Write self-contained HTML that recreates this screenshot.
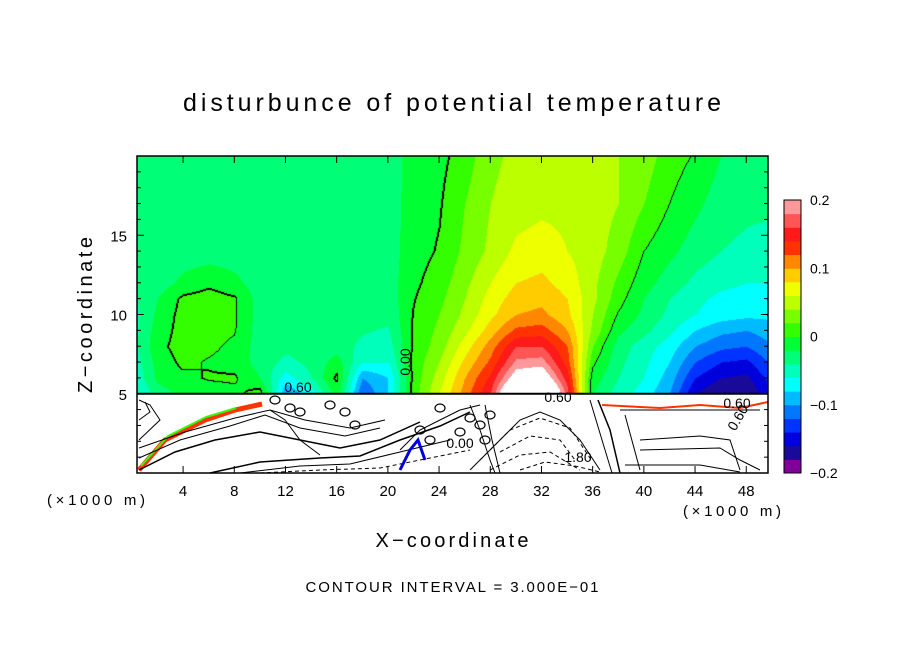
<!DOCTYPE html>
<html><head><meta charset="utf-8">
<style>
html,body{margin:0;padding:0;background:#fff;}
#wrap{position:relative;width:904px;height:654px;overflow:hidden;font-family:"Liberation Sans","DejaVu Sans",sans-serif;}
canvas{position:absolute;left:0;top:0;}
svg{position:absolute;left:0;top:0;}
</style></head>
<body>
<div id="wrap">
<canvas id="cv" width="904" height="654"></canvas>
<svg id="sv" width="904" height="654"></svg>
</div>
<script>
// ---- data ----
const xCoords = [0,2,4,6,8,10,12,14,16,18,20,22,24,26,28,30,32,34,36,38,40,42,44,46,48,50];
const zCoords = [20,17,14,12,11,10,9,8,7,6,5];
const fieldRows = [
[-.035,-.03,-.03,-.03,-.03,-.03,-.03,-.03,-.03,-.03,-.03,-.012,-.006,.01,.035,.045,.047,.047,.047,.04,.03,.01,-.002,-.02,-.03,-.03],
[-.035,-.03,-.03,-.03,-.03,-.03,-.03,-.03,-.03,-.03,-.03,-.01,-.002,.02,.04,.05,.055,.055,.05,.04,.02,.0,-.015,-.03,-.035,-.035],
[-.035,-.03,-.03,-.03,-.03,-.03,-.03,-.03,-.03,-.03,-.03,-.008,.002,.025,.045,.065,.07,.06,.05,.03,.0,-.015,-.03,-.04,-.045,-.05],
[-.04,-.03,-.015,-.005,-.015,-.03,-.03,-.03,-.03,-.03,-.03,-.004,.01,.035,.06,.08,.085,.072,.045,.015,-.012,-.03,-.045,-.055,-.06,-.06],
[-.045,-.02,.005,.01,.003,-.03,-.03,-.03,-.03,-.03,-.032,-.001,.015,.04,.068,.09,.095,.08,.045,.008,-.02,-.04,-.055,-.065,-.068,-.068],
[-.05,-.015,.008,.01,.003,-.03,-.03,-.03,-.03,-.032,-.035,.002,.02,.045,.075,.1,.105,.085,.04,-.002,-.025,-.045,-.06,-.07,-.075,-.075],
[-.05,-.01,.008,.008,.002,-.03,-.03,-.03,-.03,-.038,-.042,.003,.025,.055,.09,.125,.13,.1,.035,-.015,-.035,-.055,-.08,-.095,-.1,-.09],
[-.05,-.005,.008,.005,-.005,-.03,-.035,-.035,-.03,-.045,-.05,.005,.03,.07,.11,.16,.16,.12,.02,-.03,-.05,-.07,-.1,-.115,-.12,-.1],
[-.055,-.012,.005,-.002,-.008,-.028,-.045,-.035,-.01,-.06,-.06,.007,.04,.085,.125,.185,.19,.13,.005,-.035,-.055,-.08,-.12,-.14,-.145,-.115],
[-.06,-.015,-.005,.002,.003,-.02,-.07,-.04,.005,-.1,-.08,.008,.05,.1,.145,.22,.23,.15,-.01,-.04,-.06,-.09,-.14,-.16,-.165,-.13],
[-.07,-.03,-.015,-.01,-.005,.01,-.1,-.07,-.01,-.12,-.08,.01,.06,.11,.16,.28,.3,.17,-.02,-.05,-.07,-.1,-.16,-.18,-.18,-.14]
];
const levelColors = ["#800099","#1a0a99","#0000dd","#0033ff","#0077ff","#00bbff","#00ffff","#00ffbb","#00ff77","#00ff33",
                     "#33ff00","#77ff00","#bbff00","#eeff00","#ffcc00","#ff8800","#ff3300","#ff1a1a","#ff5555","#ff9999"];
const xTickVals = [4,8,12,16,20,24,28,32,36,40,44,48];
const zTickVals = [5,10,15];
const cbarTickVals = [0.2,0.1,0,-0.1,-0.2];
const cbarTickLabels = ["0.2","0.1","0","\u22120.1","\u22120.2"];

// ---- axes ----
const PL=137, PR=768, PT=156, PB=473;
const X0=0.4, X1=49.7, Z0=0, Z1=20;
const sx = x => PL + (x-X0)/(X1-X0)*(PR-PL);
const sz = z => PB - (z-Z0)/(Z1-Z0)*(PB-PT);
const CBL=784, CBR=801, CBT=200, CBB=473, VMIN=-0.2, VMAX=0.2;
const sc = v => CBB - (v-VMIN)/(VMAX-VMIN)*(CBB-CBT);

function fieldAt(x,z){
  let i=0; while(i<xCoords.length-2 && x>xCoords[i+1]) i++;
  let j=0; while(j<zCoords.length-2 && z<zCoords[j+1]) j++;
  const tx=Math.min(1,Math.max(0,(x-xCoords[i])/(xCoords[i+1]-xCoords[i])));
  const tz=Math.min(1,Math.max(0,(z-zCoords[j])/(zCoords[j+1]-zCoords[j])));
  const a=fieldRows[j][i],b=fieldRows[j][i+1],c=fieldRows[j+1][i],d=fieldRows[j+1][i+1];
  return (a*(1-tx)+b*tx)*(1-tz)+(c*(1-tx)+d*tx)*tz;
}
function colorFor(v){
  if(v>=VMAX) return [255,255,255];
  let k=Math.floor((v-VMIN)/0.02); if(k<0)k=0; if(k>19)k=19;
  const h=levelColors[k];
  return [parseInt(h.substr(1,2),16),parseInt(h.substr(3,2),16),parseInt(h.substr(5,2),16)];
}
const cv=document.getElementById('cv'), ctx=cv.getContext('2d');
const zBot=sz(5);
const W=PR-PL, H=Math.round(zBot)-PT;
const img=ctx.createImageData(W,H);
const vals=new Float32Array(W*H);
for(let py=0;py<H;py++){
  const z=Z0+(PB-(PT+py))/(PB-PT)*(Z1-Z0);
  for(let px=0;px<W;px++){
    const x=X0+px/(PR-PL)*(X1-X0);
    vals[py*W+px]=fieldAt(x,z);
  }
}
for(let p=0;p<W*H;p++){
  const c=colorFor(vals[p]);
  let black=false;
  const px=p%W, py=(p-px)/W;
  const s=vals[p]>=0;
  if(px+1<W && (vals[p+1]>=0)!==s) black=true;
  if(py+1<H && (vals[p+W]>=0)!==s) black=true;
  if(px>0 && (vals[p-1]>=0)!==s && s) black=true;
  if(py>0 && (vals[p-W]>=0)!==s && s) black=true;
  img.data[p*4]=black?0:c[0];img.data[p*4+1]=black?0:c[1];img.data[p*4+2]=black?0:c[2];img.data[p*4+3]=255;
}
ctx.putImageData(img,PL,PT);

// ---- SVG overlay ----
const NS="http://www.w3.org/2000/svg", sv=document.getElementById('sv');
function mk(tag,attrs,parent){const e=document.createElementNS(NS,tag);for(const k in attrs)e.setAttribute(k,attrs[k]);(parent||sv).appendChild(e);return e;}

// lower region decorations
const lower=mk('g',{});


const lowerPaths=[
 ["M139,470 L165,440 L205,420 L235,410 L262,404","#ff3300",5],
 ["M141,466 L168,436 L206,417 L236,408","#33ff00",2],
 ["M139,470 L175,452 L215,440 L260,432 L300,440 L340,448 L380,440 L420,422","#000",1.5],
 ["M139,458 L180,440 L230,426 L265,415 L300,428 L345,436 L380,428","#000",1],
 ["M139,448 L185,432 L235,418 L270,410 L305,420 L350,428 L385,420","#000",1],
 ["M139,440 L160,420 L150,405 L139,400","#000",1],
 ["M139,420 L150,412 L145,402","#000",1],
 ["M210,473 L260,462 L320,458 L360,456 L400,440 L440,426 L470,412","#000",1.5],
 ["M240,473 L300,466 L350,464 L400,452 L450,440","#000",1],
 ["M260,473 L320,470 L380,468 L420,460 L470,450","#000",1,"4,3"],
 ["M400,450 L420,430 L440,420 L460,410 L480,405","#000",1],
 ["M470,470 L500,440 L520,420 L540,412 L560,420 L580,440 L600,470","#000",1],
 ["M480,460 L510,430 L540,418 L570,428 L590,458","#000",1,"4,3"],
 ["M500,452 L530,436 L560,440 L575,460","#000",1,"4,3"],
 ["M490,470 L520,455 L550,452 L580,470","#000",1,"4,3"],
 ["M520,470 L545,462 L575,466 L600,472","#000",1,"4,3"],
 ["M470,405 L480,430 L490,460 L495,473","#000",1],
 ["M485,405 L492,440 L500,473","#000",1],
 ["M598,400 L610,430 L620,473","#000",1.5],
 ["M590,400 L602,440 L612,473","#000",1],
 ["M620,410 L760,410","#000",1],
 ["M640,440 L700,436 L730,440 L740,470","#000",1],
 ["M640,450 L720,448 L740,460 L760,470","#000",1],
 ["M625,465 L700,465 L740,472","#000",1],
 ["M625,415 L640,470","#000",1],
 ["M602,405 L660,408 L700,405 L740,408 L768,402","#ff3300",2],
 ["M270,410 L285,420 L300,440 L320,455","#000",1],
 ["M400,470 L410,450 L418,440 L425,460","#0000dd",3]
];
lowerPaths.forEach(p=>{
  const e=mk('path',{d:p[0],fill:'none',stroke:p[1],'stroke-width':p[2]},lower);
  if(p[3]) e.setAttribute('stroke-dasharray',p[3]);
  
  
});
[[290,408],[300,412],[330,405],[345,412],[440,408],[470,418],[480,425],[490,415],[420,430],[430,440],[275,400],[355,425],[460,432],[485,440]].forEach(c=>{
  const e=mk('ellipse',{cx:c[0],cy:c[1],rx:5,ry:4,fill:'none',stroke:'#000','stroke-width':1.2},lower);
  
  
});
mk('line',{x1:PL,y1:zBot,x2:PR,y2:zBot,stroke:'#000','stroke-width':2});

// contour labels
[["0.00",410,362,-90],["0.60",558,402,0],["0.60",737,408,0],["0.60",742,420,-60],["1.80",578,462,0],["0.60",298,392,0],["0.00",460,448,0]].forEach(l=>{
  const t=mk('text',{x:l[1],y:l[2],'font-size':14,'text-anchor':'middle',fill:'#000',transform:`rotate(${l[3]} ${l[1]} ${l[2]})`});
  t.textContent=l[0];
  
  
});

// frame
const frame=mk('rect',{x:PL,y:PT,width:PR-PL,height:PB-PT,fill:'none',stroke:'#000','stroke-width':1.5});



// ticks
for(const v of xTickVals){
  const x=sx(v);
  mk('line',{x1:x,y1:PB,x2:x,y2:PB-7,stroke:'#000','stroke-width':1});
  mk('line',{x1:x,y1:PT,x2:x,y2:PT+7,stroke:'#000','stroke-width':1});
  const t=mk('text',{x:x,y:496,'font-size':15,'text-anchor':'middle'});
  t.textContent=String(v);
  
  
}
for(let z=1;z<20;z++){
  const y=sz(z), len=(z%5===0)?7:4;
  mk('line',{x1:PL,y1:y,x2:PL+len,y2:y,stroke:'#000','stroke-width':1});
  mk('line',{x1:PR,y1:y,x2:PR-len,y2:y,stroke:'#000','stroke-width':1});
}
for(const v of zTickVals){
  const t=mk('text',{x:127,y:sz(v)+6,'font-size':15,'text-anchor':'end'});
  t.textContent=String(v);
  
  
}

// colorbar
const cb=mk('g',{});


levelColors.forEach((c,k)=>{
  const v0=VMIN+k*0.02, v1=v0+0.02;
  mk('rect',{x:CBL,y:sc(v1),width:CBR-CBL,height:sc(v0)-sc(v1)+0.5,fill:c},cb);
});
mk('rect',{x:CBL,y:CBT,width:CBR-CBL,height:CBB-CBT,fill:'none',stroke:'#000','stroke-width':1},cb);
cbarTickVals.forEach((v,i)=>{
  const t=mk('text',{x:810,y:sc(v)+5,'font-size':14},cb);
  t.textContent=cbarTickLabels[i];
  
  
});

// titles
function txt(s,x,y,size,name,extra){const t=mk('text',Object.assign({x:x,y:y,'font-size':size,'text-anchor':'middle'},extra||{}));t.textContent=s;return t;}
txt("disturbunce of potential temperature",452,111,25,'chart-title',{textLength:538,lengthAdjust:'spacing'});
txt("X\u2212coordinate",452,547,20,'x-axis-title',{textLength:153,lengthAdjust:'spacing'});
txt("Z\u2212coordinate",0,0,20,'y-axis-title',{textLength:156,lengthAdjust:'spacing',transform:'translate(92,315) rotate(-90)'});
txt("(\u00d71000 m)",96,505,15,'x-unit-left',{textLength:98,lengthAdjust:'spacing'});
txt("(\u00d71000 m)",732,516,15,'x-unit-right',{textLength:98,lengthAdjust:'spacing'});
txt("CONTOUR INTERVAL = 3.000E\u221201",452,592,15,'contour-interval-note',{textLength:293,lengthAdjust:'spacing'});
</script>
</body></html>
